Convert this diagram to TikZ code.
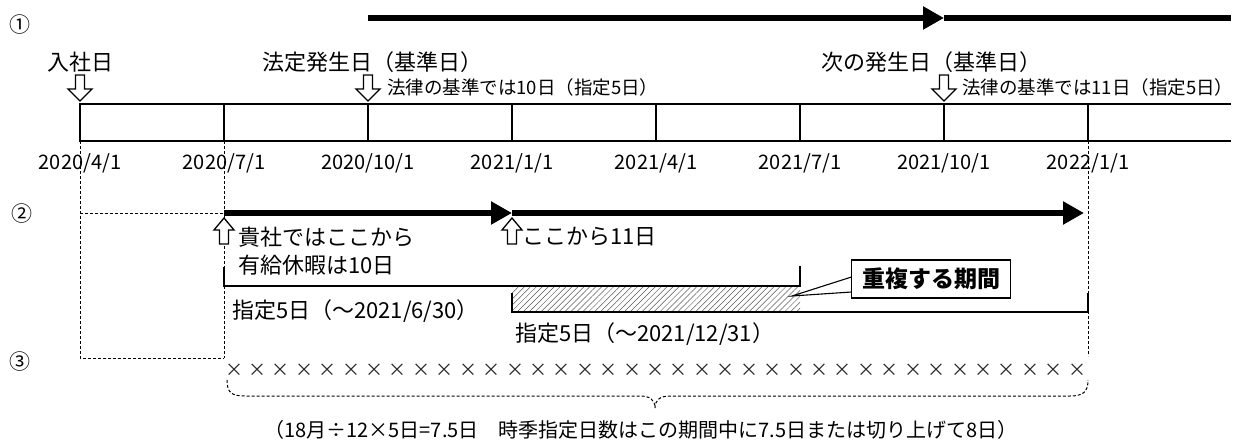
\documentclass[tikz,border=0pt]{standalone}
\usepackage{fontspec}
\setmainfont{Noto Sans CJK JP}
\usetikzlibrary{arrows.meta,patterns.meta}
\begin{document}
\begin{tikzpicture}[x=1pt,y=-1pt,
  every node/.style={inner sep=0pt,outer sep=0pt},
  lbl/.style={font=\fontsize{22}{22}\selectfont},
  sml/.style={font=\fontsize{18.5}{18.5}\selectfont},
  circ/.style={font=\fontsize{21}{21}\selectfont},
  datelbl/.style={font=\fontsize{20}{20}\selectfont},
  box/.style={line width=1.4pt},
  guide/.style={line width=0.9pt,dash pattern=on 3pt off 2pt},
  thick arrow/.style={line width=6pt,-{Triangle[length=21pt,width=22pt]}},
  thick line/.style={line width=6pt},
  downarr/.pic={\draw[line width=1.3pt,line join=miter,fill=white] (-4.5,-26) -- (4.5,-26) -- (4.5,-12) -- (12,-12) -- (0,0) -- (-12,-12) -- (-4.5,-12) -- cycle;},
  uparr/.pic={\draw[line width=1.3pt,line join=miter,fill=white] (-4.5,26) -- (4.5,26) -- (4.5,12) -- (10,12) -- (0,0) -- (-10,12) -- (-4.5,12) -- cycle;}
]
\useasboundingbox (0,0) rectangle (1239,443);

% row labels
\node[circ] (r1) at (20,25) {①};
\node[circ] (r2) at (22,214) {②};
\node[circ] (r3) at (20,362) {③};

% top thick arrow
\coordinate (ta) at (368,18);
\coordinate (tb) at (944,18);
\coordinate (tc) at (1231,18);
\draw[thick arrow] (ta) -- (tb);
\draw[thick line] (tb) -- (tc);

% timeline box
\draw[box] (1231,104) -- (80,104) -- (80,141) -- (1231,141);
\foreach \x in {224,368,512,656,800,944,1088}
  \draw[box] (\x,104) -- (\x,141);

% dates
\node[datelbl] (d0) at (80,163) {2020/4/1};
\node[datelbl] (d1) at (224,163) {2020/7/1};
\node[datelbl] (d2) at (368,163) {2020/10/1};
\node[datelbl] (d3) at (512,163) {2021/1/1};
\node[datelbl] (d4) at (656,163) {2021/4/1};
\node[datelbl] (d5) at (800,163) {2021/7/1};
\node[datelbl] (d6) at (944,163) {2021/10/1};
\node[datelbl] (d7) at (1088,163) {2022/1/1};

% top labels
\node[lbl] (nyusha) at (80,62) {入社日};
\pic at (80,101) {downarr};
\node[lbl,anchor=west] (hotei) at (262,62) {法定発生日（基準日）};
\pic at (368,101) {downarr};
\node[sml,anchor=west] (law10) at (387,87) {法律の基準では10日（指定5日）};
\node[lbl,anchor=east] (tsugi) at (1041,62) {次の発生日（基準日）};
\pic at (944,101) {downarr};
\node[sml,anchor=west] (law11) at (962,87) {法律の基準では11日（指定5日）};

% dashed guides
\draw[guide] (80,141) -- (80,358) -- (224,358);
\draw[guide] (224,141) -- (224,358);
\draw[guide] (80,213) -- (224,213);
\draw[guide] (1088,141) -- (1088,356);

% row 2 arrows
\coordinate (sa) at (224,213);
\coordinate (sb) at (512,213);
\coordinate (sc) at (1084,213);
\draw[thick arrow] (sa) -- (sb);
\draw[thick arrow] (sb) -- (sc);
\pic at (224,218) {uparr};
\pic at (512,218) {uparr};
\node[lbl,anchor=west] (kisha) at (238,237) {貴社ではここから};
\node[lbl,anchor=west] (yukyu) at (238,265) {有給休暇は10日};
\node[lbl,anchor=west] (koko) at (522,237) {ここから11日};

% hatched overlap
\fill[pattern={Lines[angle=45,distance=4.2pt,line width=0.5pt]},pattern color=black!65] (512,287) rectangle (800,311);

% brackets
\draw[box] (224,267) -- (224,286) -- (800,286) -- (800,266);
\draw[box] (512,293) -- (512,312) -- (1088,312) -- (1088,293);
\node[lbl,anchor=west] (shitei1) at (232,311) {指定5日（～2021/6/30）};
\node[lbl,anchor=west] (shitei2) at (515,334) {指定5日（～2021/12/31）};

% callout
\node[draw,line width=1.2pt,fill=white,minimum width=159pt,minimum height=38pt,
      font=\fontsize{23}{23}\selectfont\bfseries] (callout) at (931,279) {重複する期間};
\coordinate (ptip) at (792,296);
\draw[line width=1.1pt] ([yshift=2pt]callout.west) -- (ptip) -- ([yshift=-13pt]callout.west);

% crosses
\foreach \i in {0,...,36}
  \node[font=\fontsize{18}{18}\selectfont,text=black!85] at (234+23.42*\i,370) {×};

% dashed brace
\coordinate (bl) at (227,380);
\coordinate (bm) at (655,408);
\coordinate (br) at (1088,380);
\draw[guide,line width=1pt] (bl) .. controls (227,393) and (232,396) .. (245,396) -- (640,396)
  .. controls (650,396) and (655,400) .. (bm)
  .. controls (655,400) and (660,396) .. (670,396) -- (1070,396)
  .. controls (1083,396) and (1088,392) .. (br);

\node[font=\fontsize{20}{20}\selectfont] (bottom) at (641,430) {（18月÷12×5日=7.5日　時季指定日数はこの期間中に7.5日または切り上げて8日）};
\end{tikzpicture}
\end{document}
